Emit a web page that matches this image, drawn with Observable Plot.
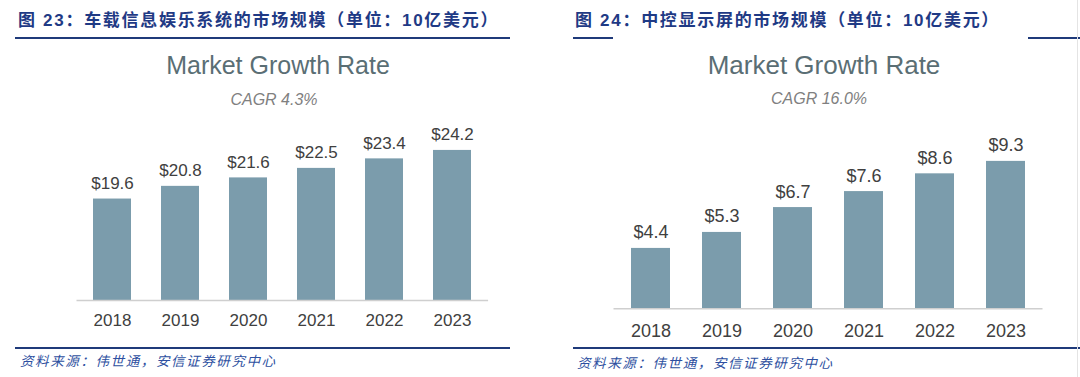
<!DOCTYPE html>
<html><head><meta charset="utf-8">
<script src="https://cdn.jsdelivr.net/npm/d3@7"></script>
<script src="https://cdn.jsdelivr.net/npm/@observablehq/plot@0.6"></script>
<style>
body{margin:0;background:#fff;}
#root{position:relative;width:1080px;height:377px;overflow:hidden;font-family:"Liberation Sans",Arial,sans-serif;background:#fff;}
.abs{position:absolute;white-space:nowrap;line-height:1;}
.title{font-family:"Liberation Sans","Noto Sans CJK SC",sans-serif;font-weight:bold;font-size:17px;color:#1f3a85;letter-spacing:1.7px;}
.rule{position:absolute;background:#1f3a7a;}
.src{font-family:"Noto Sans CJK SC",sans-serif;font-style:italic;font-size:13.5px;color:#2d4fa0;letter-spacing:1.6px;}
.mgr{color:#5a6e74;transform:translateX(-50%);}
.cagr{font-size:16px;font-style:italic;color:#808080;transform:translateX(-50%);}
.panel{position:absolute;top:0;}
</style>
</head><body>
<div id="root"></div>
<script>
const years = ["2018", "2019", "2020", "2021", "2022", "2023"];
const infotainmentValues = [19.6, 20.8, 21.6, 22.5, 23.4, 24.2];
const displayValues = [4.4, 5.3, 6.7, 7.6, 8.6, 9.3];
const titleLeft = "图 23：车载信息娱乐系统的市场规模（单位：10亿美元）";
const titleRight = "图 24：中控显示屏的市场规模（单位：10亿美元）";
const chartTitle = "Market Growth Rate";
const cagrLeft = "CAGR 4.3%";
const cagrRight = "CAGR 16.0%";
const sourceText = "资料来源：伟世通，安信证券研究中心";

const root = document.getElementById("root");
function addDiv(cls, text, style) {
  const d = document.createElement("div");
  d.className = cls;
  if (text != null) d.textContent = text;
  Object.assign(d.style, style);
  root.appendChild(d);
  return d;
}

function chart(values, o) {
  const data = years.map((y, i) => ({year: y, value: values[i]}));
  const y0 = o.ydomain[0];
  return Plot.plot({
    width: 540, height: 377,
    marginLeft: o.ml, marginRight: o.mr, marginTop: o.mt, marginBottom: o.mb,
    x: {domain: years, paddingInner: o.pi, paddingOuter: o.pi / 2, label: null},
    y: {domain: o.ydomain, axis: null},
    style: {fontFamily: "'Liberation Sans', Arial, sans-serif", fontSize: o.fs + "px", color: "#404040", background: "transparent", overflow: "visible"},
    marks: [
      Plot.barY(data, {x: "year", y1: d => y0, y2: "value", fill: "#7b9cac"}),
      Plot.ruleY([y0], {stroke: "#cfcfcf", strokeWidth: 1.5}),
      Plot.text(data, {x: "year", y: "value", text: d => "$" + d.value.toFixed(1), lineAnchor: "bottom", dy: -10, fontSize: o.fs, fill: "#404040"}),
      Plot.axisX({tickSize: 0, tickPadding: o.tp, fontSize: o.fs, color: "#404040", label: null})
    ]
  });
}

// Left panel
addDiv("abs title", titleLeft, {left: "18px", top: "12px"});
addDiv("rule", null, {left: "15px", top: "37px", width: "495px", height: "2px"});
addDiv("abs mgr", chartTitle, {left: "278px", top: "53.4px", fontSize: "25px"});
addDiv("abs cagr", cagrLeft, {left: "274px", top: "92px"});
const c1 = chart(infotainmentValues, {ml: 76.5, mr: 51.9, mt: 130.9, mb: 77, ydomain: [10, 26], pi: 0.442, fs: 17, tp: 13});
c1.classList.add("panel"); c1.style.left = "0px";
root.appendChild(c1);
addDiv("rule", null, {left: "15px", top: "347px", width: "495px", height: "2px"});
addDiv("abs src", sourceText, {left: "20px", top: "354px"});

// Right panel
addDiv("abs title", titleRight, {left: "575px", top: "12px"});
addDiv("rule", null, {left: "573px", top: "37px", width: "40px", height: "2px"});
addDiv("rule", null, {left: "1028px", top: "37px", width: "52px", height: "2px"});
addDiv("abs mgr", chartTitle, {left: "824px", top: "51.6px", fontSize: "26px"});
addDiv("abs cagr", cagrRight, {left: "819px", top: "90.6px"});
const c2 = chart(displayValues, {ml: 73.5, mr: 37.5, mt: 130.7, mb: 68.7, ydomain: [1, 11], pi: 0.448, fs: 18, tp: 15});
c2.classList.add("panel"); c2.style.left = "540px";
root.appendChild(c2);
addDiv("rule", null, {left: "573px", top: "347px", width: "507px", height: "2px"});
addDiv("abs src", sourceText, {left: "577px", top: "356px"});
addDiv("rule", null, {left: "1077px", top: "0px", width: "1px", height: "377px", background: "#e4e4e4"});
</script>
</body></html>
